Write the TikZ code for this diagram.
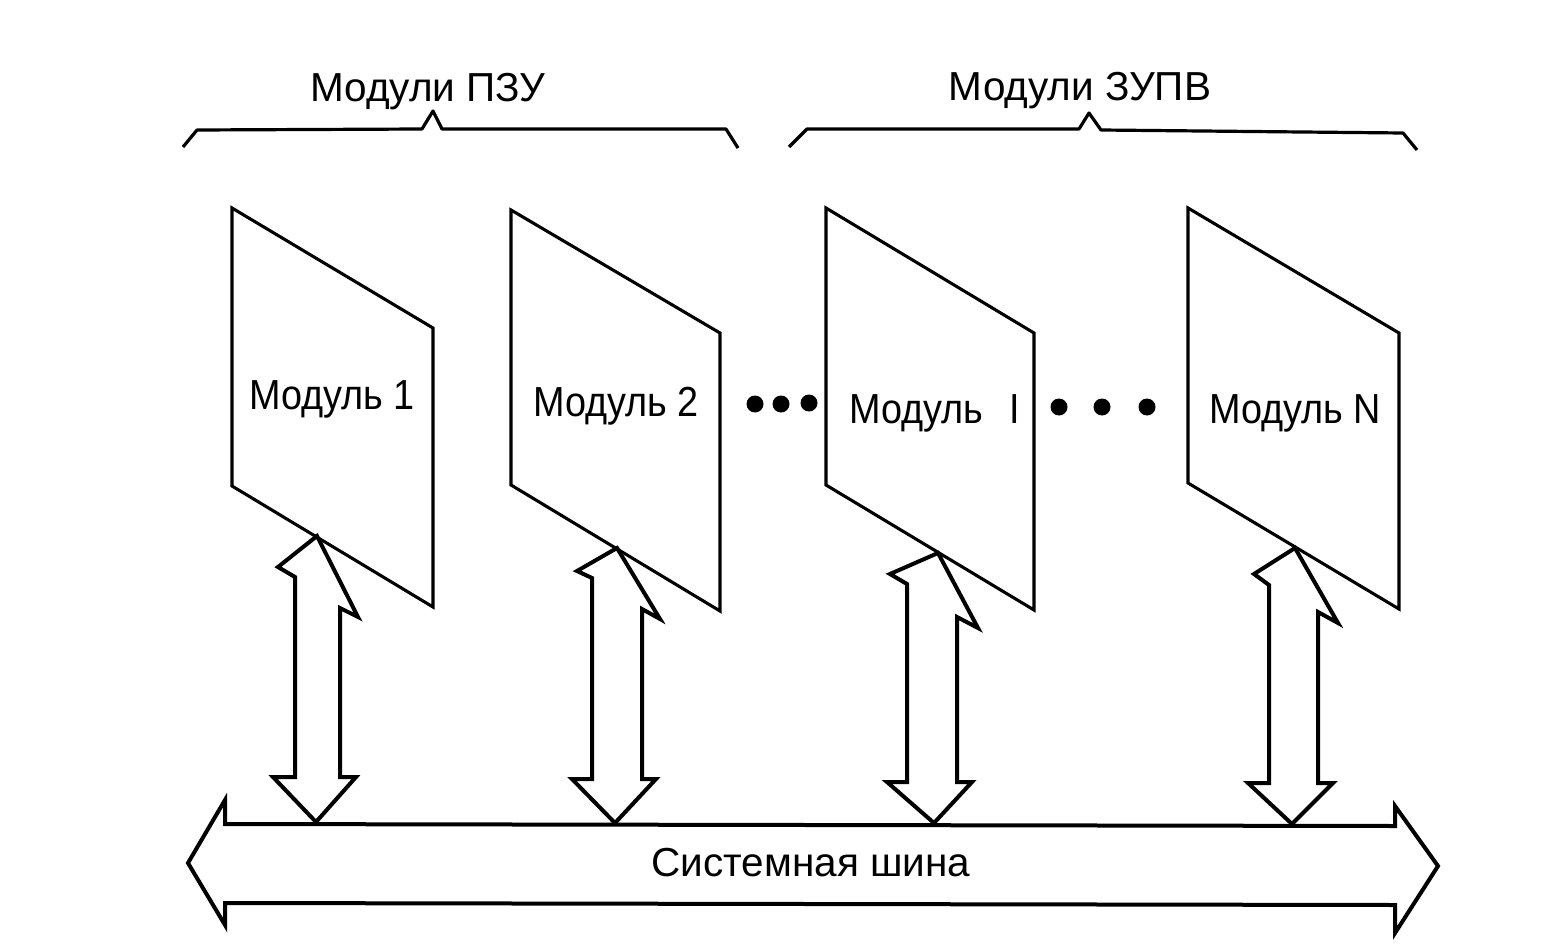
\documentclass[tikz,border=0pt]{standalone}
\usepackage{fontspec}
\setmainfont{Liberation Sans}
\begin{document}
\begin{tikzpicture}[x=1pt,y=-1pt,
  modbox/.style={line width=3.1pt,line join=miter},
  busarrow/.style={line width=4pt,line join=miter},
  brace/.style={line width=3.2pt,line join=round},
  bustext/.style={font=\fontsize{40.5}{40}\selectfont,inner sep=0pt,anchor=base},
  modtext/.style={font=\fontsize{42}{42}\selectfont,inner sep=0pt,anchor=base,xscale=0.9},
  dotmark/.style={fill=black,draw=none}]
\useasboundingbox (0,0) rectangle (1550,950);
\fill[white] (0,0) rectangle (1550,950);

% braces
\draw[brace] (183,147) -- (197,130) -- (422,129) -- (433,111) -- (442,129) -- (726,129) -- (738,148);
\draw[brace] (789,147) -- (807,129) -- (1079,129) -- (1089,113) -- (1101,130) -- (1403,133) -- (1417,150);
\node[bustext] (lpzu) at (428,101) {Модули ПЗУ};
\node[bustext] (lzupv) at (1080,100) {Модули ЗУПВ};

% modules
\draw[modbox] (232,208) -- (433,328) -- (433,607) -- (232,486) -- cycle;
\draw[modbox] (511,210) -- (720,333) -- (720,611) -- (511,485) -- cycle;
\draw[modbox] (826,208) -- (1034,333) -- (1034,610) -- (826,485) -- cycle;
\draw[modbox] (1188,208) -- (1399,333) -- (1399,609) -- (1188,483) -- cycle;

\node[modtext] (m1) at (332,409) {Модуль 1};
\node[modtext] (m2) at (616,416) {Модуль 2};
\node[modtext,anchor=base west] (mi) at (849,423) {Модуль\hspace{29pt}I};
\node[modtext] (mn) at (1295,423) {Модуль N};

% dots
\foreach \px/\py in {755/404,781/404,809/403,1059/407,1102/407,1147/407}
  \fill[dotmark] (\px,\py) circle (8.5);

% system bus
\draw[busarrow] (225,824) -- (225,800) -- (188,863) -- (225,925) -- (225,903)
  -- (1395,905) -- (1395,933) -- (1438,866) -- (1395,806) -- (1395,826) -- cycle;
\node[bustext] (bus) at (811,876) {Системная шина};

% bidirectional arrows
\draw[busarrow] (317,536) -- (278,567) -- (295,577) -- (295,777) -- (273,777) -- (316,822)
  -- (356,777) -- (340,777) -- (340,608) -- (358,617) -- cycle;
\draw[busarrow] (617,548) -- (577,571) -- (592,578) -- (592,779) -- (572,779) -- (615,823)
  -- (656,779) -- (642,779) -- (642,609) -- (660,619) -- cycle;
\draw[busarrow] (938,553) -- (890,574) -- (907,584) -- (907,782) -- (887,782) -- (934,823)
  -- (972,782) -- (957,782) -- (957,617) -- (978,628) -- cycle;
\draw[busarrow] (1295,548) -- (1254,574) -- (1269,585) -- (1269,783) -- (1248,783) -- (1292,824)
  -- (1333,783) -- (1318,783) -- (1318,612) -- (1338,623) -- cycle;
\end{tikzpicture}
\end{document}
